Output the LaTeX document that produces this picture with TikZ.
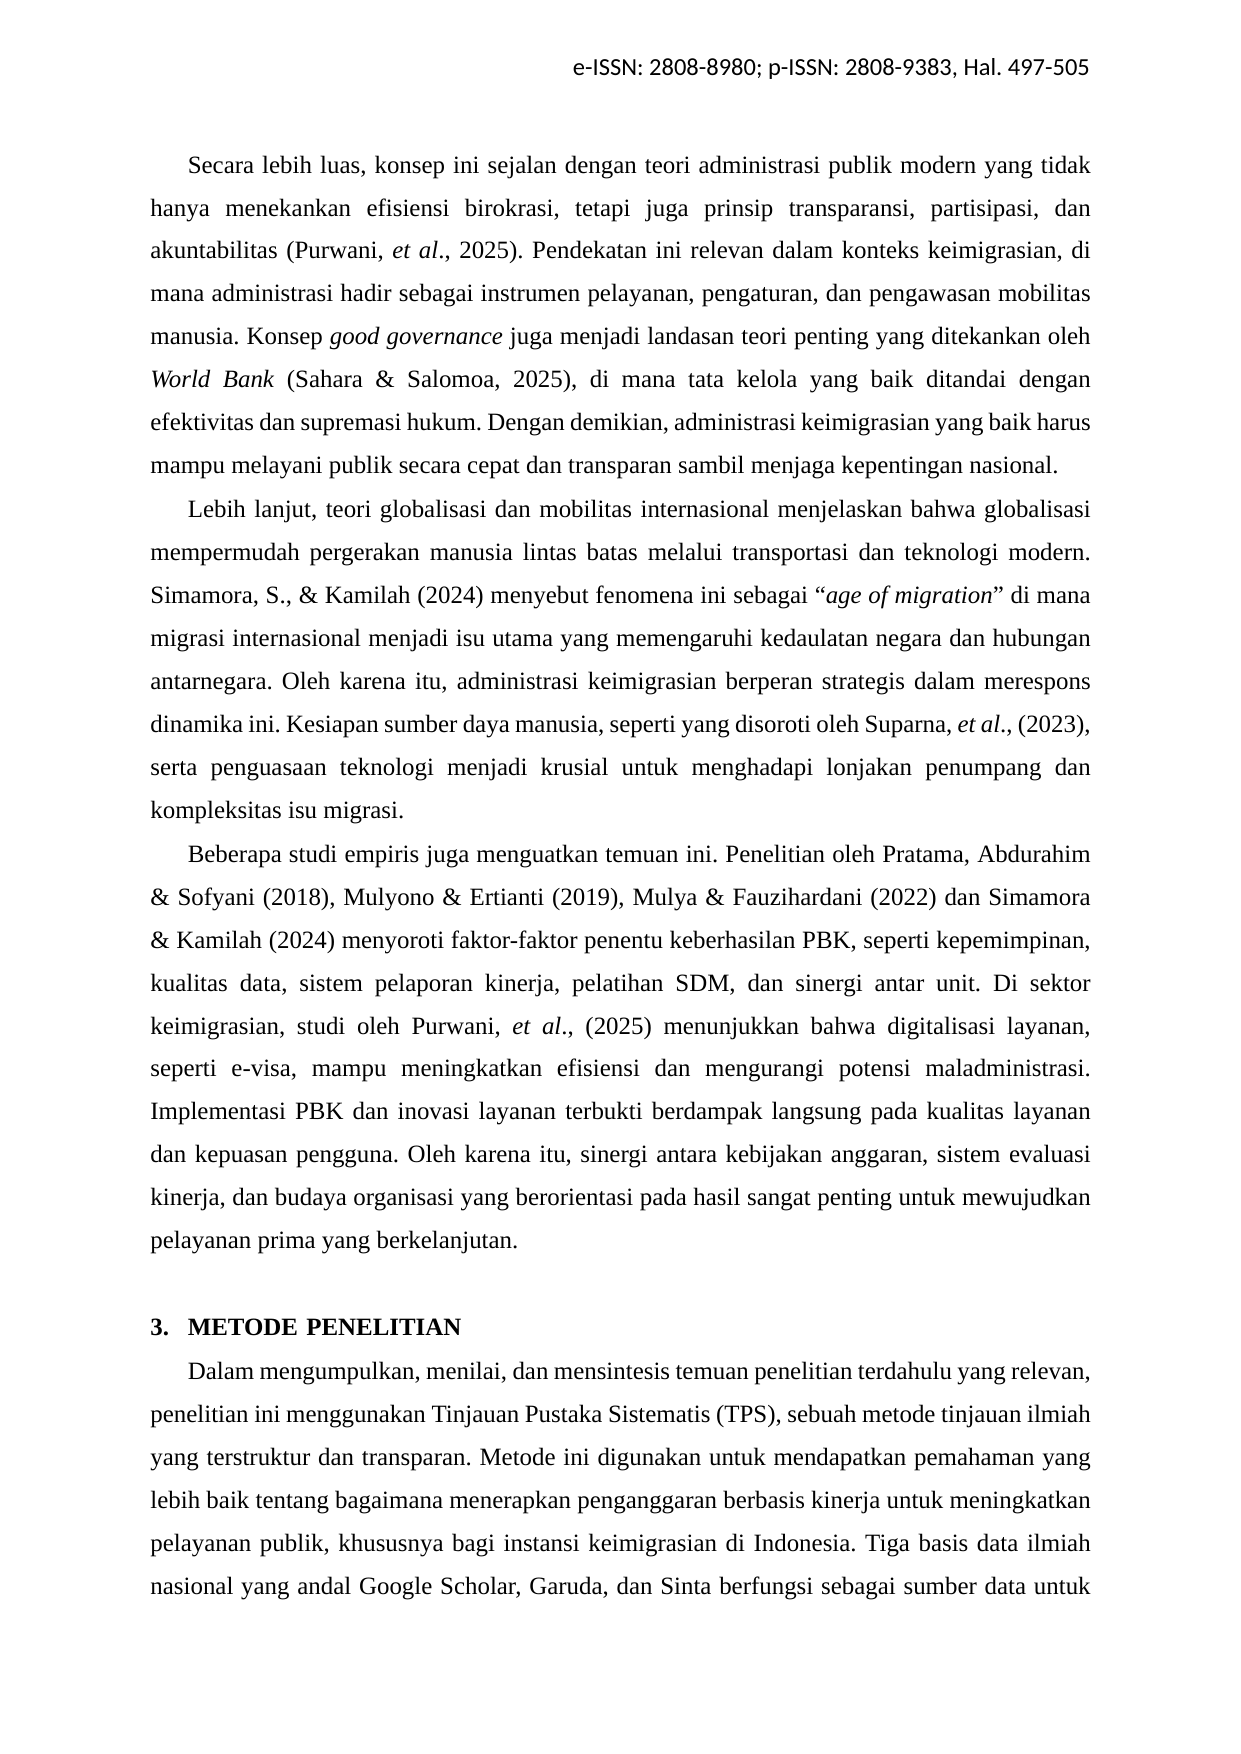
\documentclass[tikz,border=0pt]{standalone}
\usepackage{fontspec}
\setmainfont{Liberation Serif}
\newfontfamily\kopfont{Carlito}
\usetikzlibrary{positioning}

\frenchspacing
\hyphenpenalty=10000
\tolerance=9999

\tikzstyle{para} = [text width=159.2mm, align=justify, inner sep=0pt, font=\fontsize{12pt}{20.7pt}\selectfont]
\tikzstyle{kop} = [anchor=base east, inner sep=0pt, font=\kopfont\fontsize{11.8pt}{14pt}\selectfont]
\tikzstyle{judul} = [text width=159.2mm, align=left, inner sep=0pt, font=\bfseries\fontsize{12pt}{20.7pt}\selectfont]

\newcommand{\indentpar}{\strut\hspace*{18pt}}

\begin{document}
\begin{tikzpicture}
        \tikzset{node distance = 0pt}
        \path[use as bounding box, fill=white] (0,0) rectangle (210mm,-297mm);

        % running head
        \node (head) [kop] at (184.6mm,-12.7mm) {e-ISSN: 2808-8980; p-ISSN: 2808-9383, Hal. 497-505};

        \node (p1) [para, anchor=base west] at (25.4mm,-29.3mm) {\indentpar
            Secara lebih luas, konsep ini sejalan dengan teori administrasi publik modern yang tidak\linebreak
            hanya menekankan efisiensi birokrasi, tetapi juga prinsip transparansi, partisipasi, dan\linebreak
            akuntabilitas (Purwani, \textit{et al}., 2025). Pendekatan ini relevan dalam konteks keimigrasian, di\linebreak
            mana administrasi hadir sebagai instrumen pelayanan, pengaturan, dan pengawasan mobilitas\linebreak
            manusia. Konsep \textit{good governance} juga menjadi landasan teori penting yang ditekankan oleh\linebreak
            \textit{World Bank} (Sahara \& Salomoa, 2025), di mana tata kelola yang baik ditandai dengan\linebreak
            efektivitas dan supremasi hukum. Dengan demikian, administrasi keimigrasian yang baik harus\linebreak
            mampu melayani publik secara cepat dan transparan sambil menjaga kepentingan nasional.\strut};

        \node (p2) [para, below=of p1] {\indentpar
            Lebih lanjut, teori globalisasi dan mobilitas internasional menjelaskan bahwa globalisasi\linebreak
            mempermudah pergerakan manusia lintas batas melalui transportasi dan teknologi modern.\linebreak
            Simamora, S., \& Kamilah (2024) menyebut fenomena ini sebagai “\textit{age of migration}” di mana\linebreak
            migrasi internasional menjadi isu utama yang memengaruhi kedaulatan negara dan hubungan\linebreak
            antarnegara. Oleh karena itu, administrasi keimigrasian berperan strategis dalam merespons\linebreak
            dinamika ini. Kesiapan sumber daya manusia, seperti yang disoroti oleh Suparna, \textit{et al}., (2023),\linebreak
            serta penguasaan teknologi menjadi krusial untuk menghadapi lonjakan penumpang dan\linebreak
            kompleksitas isu migrasi.\strut};

        \node (p3) [para, below=of p2] {\indentpar
            Beberapa studi empiris juga menguatkan temuan ini. Penelitian oleh Pratama, Abdurahim\linebreak
            \& Sofyani (2018), Mulyono \& Ertianti (2019), Mulya \& Fauzihardani (2022) dan Simamora\linebreak
            \& Kamilah (2024) menyoroti faktor-faktor penentu keberhasilan PBK, seperti kepemimpinan,\linebreak
            kualitas data, sistem pelaporan kinerja, pelatihan SDM, dan sinergi antar unit. Di sektor\linebreak
            keimigrasian, studi oleh Purwani, \textit{et al}., (2025) menunjukkan bahwa digitalisasi layanan,\linebreak
            seperti e-visa, mampu meningkatkan efisiensi dan mengurangi potensi maladministrasi.\linebreak
            Implementasi PBK dan inovasi layanan terbukti berdampak langsung pada kualitas layanan\linebreak
            dan kepuasan pengguna. Oleh karena itu, sinergi antara kebijakan anggaran, sistem evaluasi\linebreak
            kinerja, dan budaya organisasi yang berorientasi pada hasil sangat penting untuk mewujudkan\linebreak
            pelayanan prima yang berkelanjutan.\strut};

        % section heading, one empty line above
        \node (sec3) [judul, below=20.7pt of p3] {\strut\makebox[18pt][l]{3.}METODE PENELITIAN\strut};

        % last line runs on to the next page, so it is justified too
        \node (p4) [para, below=of sec3] {\parfillskip=0pt\indentpar
            Dalam mengumpulkan, menilai, dan mensintesis temuan penelitian terdahulu yang relevan,\linebreak
            penelitian ini menggunakan Tinjauan Pustaka Sistematis (TPS), sebuah metode tinjauan ilmiah\linebreak
            yang terstruktur dan transparan. Metode ini digunakan untuk mendapatkan pemahaman yang\linebreak
            lebih baik tentang bagaimana menerapkan penganggaran berbasis kinerja untuk meningkatkan\linebreak
            pelayanan publik, khususnya bagi instansi keimigrasian di Indonesia. Tiga basis data ilmiah\linebreak
            nasional yang andal Google Scholar, Garuda, dan Sinta berfungsi sebagai sumber data untuk\strut\par};
    \end{tikzpicture}
\end{document}
